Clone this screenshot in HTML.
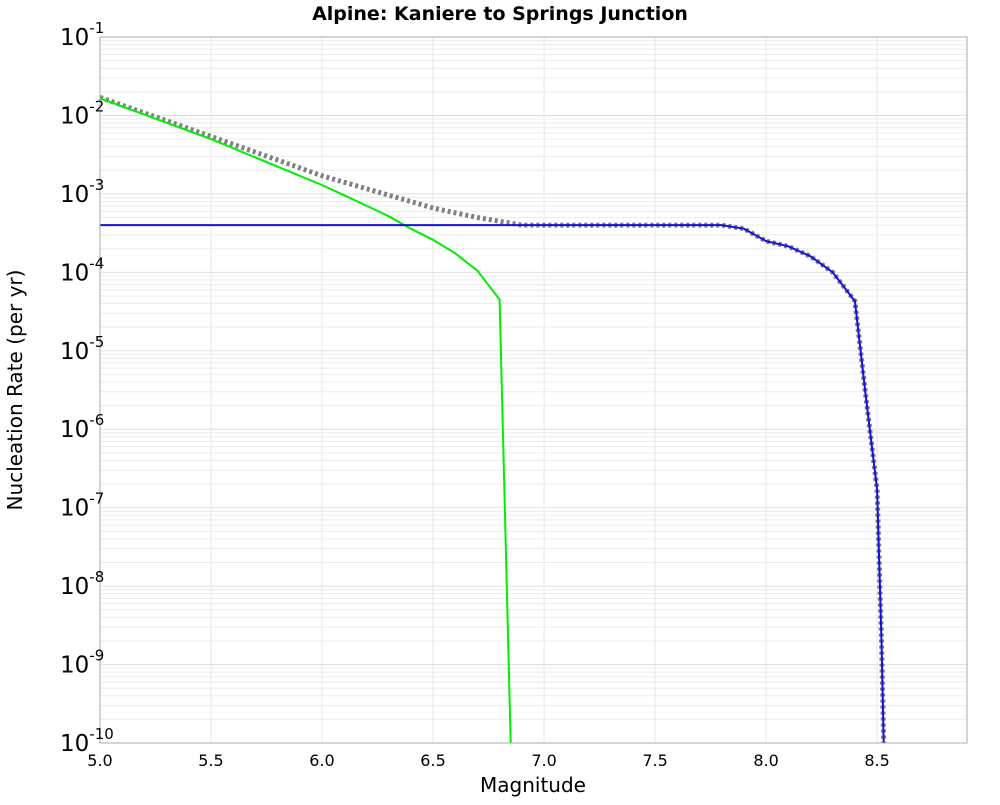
<!DOCTYPE html>
<html><head><meta charset="utf-8"><style>
body{margin:0;background:#fff;font-family:"Liberation Sans","DejaVu Sans",sans-serif}
</style></head><body>
<svg width="1000" height="800" xmlns="http://www.w3.org/2000/svg" id="chart" font-family="DejaVu Sans, Liberation Sans, sans-serif">
<text x="500" y="20" text-anchor="middle" font-size="19" font-weight="bold">Alpine: Kaniere to Springs Junction</text>
<g id="grid"></g>
<g id="series"></g>
<rect x="100" y="37" width="867" height="706" fill="none" stroke="#aaa" stroke-width="1"/>
<g id="axes"></g>
<text x="533" y="792" text-anchor="middle" font-size="20">Magnitude</text>
<text transform="translate(22,390) rotate(-90)" text-anchor="middle" font-size="20">Nucleation Rate (per yr)</text>
</svg>
<script>
const xTicks=[5.0,5.5,6.0,6.5,7.0,7.5,8.0,8.5];
const yExps=[-1,-2,-3,-4,-5,-6,-7,-8,-9,-10];
const greenMag=[5.0,5.5,6.0,6.1,6.2,6.3,6.4,6.5,6.6,6.7,6.8,6.85];
const greenRate=[1.66e-2,5.0e-3,1.3e-3,9.6e-4,7.1e-4,5.2e-4,3.6e-4,2.6e-4,1.75e-4,1.05e-4,4.5e-5,1e-10];
const blueMag=[5.0,7.8,7.9,8.0,8.1,8.2,8.3,8.4,8.45,8.5,8.52,8.53];
const blueRate=[4.0e-4,4.0e-4,3.6e-4,2.5e-4,2.15e-4,1.6e-4,1.0e-4,4.3e-5,2.5e-6,1.7e-7,2e-9,1e-10];
const totalMag=[5.0,5.5,6.0,6.5,6.7,6.9,7.0,7.8,7.9,8.0,8.1,8.2,8.3,8.4,8.45,8.5,8.52,8.53];
const totalRate=[1.7e-2,5.4e-3,1.7e-3,6.6e-4,5.0e-4,4.0e-4,4.0e-4,4.0e-4,3.6e-4,2.5e-4,2.15e-4,1.6e-4,1.0e-4,4.3e-5,2.5e-6,1.7e-7,2e-9,1e-10];
const NS="http://www.w3.org/2000/svg";
const X0=100,X1=967,XMIN=5.0,XMAX=8.905,Y0=37,Y1=743,LMAX=-1,LMIN=-10;
const sx=v=>X0+(v-XMIN)/(XMAX-XMIN)*(X1-X0);
const sy=v=>Y0+(LMAX-Math.log10(v))/(LMAX-LMIN)*(Y1-Y0);
function mk(t,a,p){const e=document.createElementNS(NS,t);for(const k in a)e.setAttribute(k,a[k]);p.appendChild(e);return e;}
const grid=document.getElementById('grid'),axes=document.getElementById('axes'),series=document.getElementById('series');
for(let e=-10;e<-1;e++){for(let m=1;m<10;m++){const y=sy(m*Math.pow(10,e));
const l=mk('line',{x1:X0,x2:X1,y1:y,y2:y,stroke:m==1?'#e0e0e0':'#ececec','stroke-width':1},grid);

}}
xTicks.forEach(v=>{const x=sx(v);
const l=mk('line',{x1:x,x2:x,y1:Y0,y2:Y1,stroke:'#e6e6e6','stroke-width':1},grid);


const t=mk('text',{x:x,y:766,'text-anchor':'middle','font-size':16},axes);t.textContent=v.toFixed(1);

});
yExps.forEach(e=>{const y=sy(Math.pow(10,e));
const t=mk('text',{x:60,y:y+8,'text-anchor':'start','font-size':23},axes);


t.appendChild(document.createTextNode('10'));
const s=mk('tspan',{dy:-12,'font-size':15},t);s.textContent=String(e);});
function path(mags,rates,attrs,name){const d=mags.map((m,i)=>(i?'L':'M')+sx(m).toFixed(1)+','+sy(rates[i]).toFixed(1)).join('');
const p=mk('path',Object.assign({d:d,fill:'none'},attrs),series);

}
path(totalMag,totalRate,{stroke:'#808080','stroke-width':5,'stroke-dasharray':'3,3'},'total-rate-line');
path(greenMag,greenRate,{stroke:'#00ee00','stroke-width':2},'green-rate-line');
path(blueMag,blueRate,{stroke:'#1010e0','stroke-width':2},'blue-rate-line');
</script>
</body></html>
